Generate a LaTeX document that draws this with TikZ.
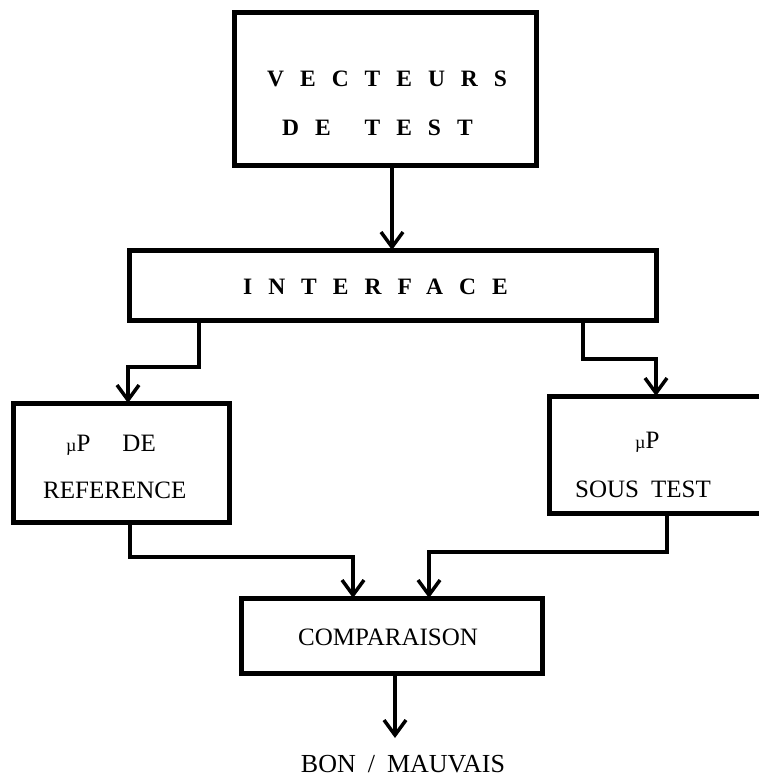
\documentclass[tikz,border=0pt]{standalone}
\usepackage{fontspec}
\setmainfont{Liberation Serif}
\newfontfamily\spacedfont[LetterSpace=68]{Liberation Serif}
\usetikzlibrary{arrows.meta}
\begin{document}
\begin{tikzpicture}[x=1pt,y=-1pt,
  box/.style={draw,line width=5pt,inner sep=0pt,outer sep=0pt},
  conn/.style={line width=3.5pt},
  arr/.style={conn,-{Straight Barb[length=15pt,width=22pt]}},
  lbl/.style={inner sep=0pt,anchor=base west,font=\fontsize{25}{25}\selectfont},
  slbl/.style={inner sep=0pt,anchor=base west,font=\fontsize{23.5}{23.5}\selectfont\spacedfont\bfseries}
]
\clip (0,0) rectangle (759,778);
\fill[white] (0,0) rectangle (759,778);
% boxes
\node[box,minimum width=302pt,minimum height=153pt] (top) at (385,89.5) {};
\node[box,minimum width=527pt,minimum height=70pt] (iface) at (392.5,285) {};
\node[box,minimum width=216pt,minimum height=119pt] (lbox) at (121,462.5) {};
\node[box,minimum width=251pt,minimum height=117pt] (rbox) at (674.5,454.5) {};
\node[box,minimum width=301pt,minimum height=75pt] (comp) at (391.5,635.5) {};
% texts
\node[slbl] (t1) at (267,87) {VECTEURS};
\node[slbl] (t2) at (282,136) {DE\hspace{12pt} TEST};
\node[slbl] (t3) at (243,294) {INTERFACE};
\node[lbl] (t4) at (66,451) {{\fontsize{18}{18}\selectfont µ}P\hspace{32pt}DE};
\node[lbl] (t5) at (43,498) {REFERENCE};
\node[lbl] (t6) at (635,448) {{\fontsize{18}{18}\selectfont µ}P};
\node[lbl] (t7) at (575,497) {SOUS\hspace{12pt}TEST};
\node[lbl] (t8) at (298,645) {COMPARAISON};
\node[lbl,anchor=base,font=\fontsize{26}{26}\selectfont] (t9) at (403,772) {BON\hspace{12pt}/\hspace{12pt}MAUVAIS};
% connector coordinates
\coordinate (a1) at (392,0);
\coordinate (l1) at (199,367);
\coordinate (l2) at (128,0);
\coordinate (r1) at (583,359);
\coordinate (r2) at (656,0);
\coordinate (b1) at (130,557);
\coordinate (b2) at (353,0);
\coordinate (b3) at (667,552);
\coordinate (b4) at (429,0);
\coordinate (c1) at (395,0);
\coordinate (out) at (395,738);
% connectors
\draw[arr] (a1 |- top.south) -- (a1 |- iface.north);
\draw[arr] (l1 |- iface.south) -- (l1) -| (l2 |- lbox.north);
\draw[arr] (r1 |- iface.south) -- (r1) -| (r2 |- rbox.north);
\draw[arr] (b1 |- lbox.south) -- (b1) -| (b2 |- comp.north);
\draw[arr] (b3 |- rbox.south) -- (b3) -| (b4 |- comp.north);
\draw[arr] (c1 |- comp.south) -- (out);
\end{tikzpicture}
\end{document}
